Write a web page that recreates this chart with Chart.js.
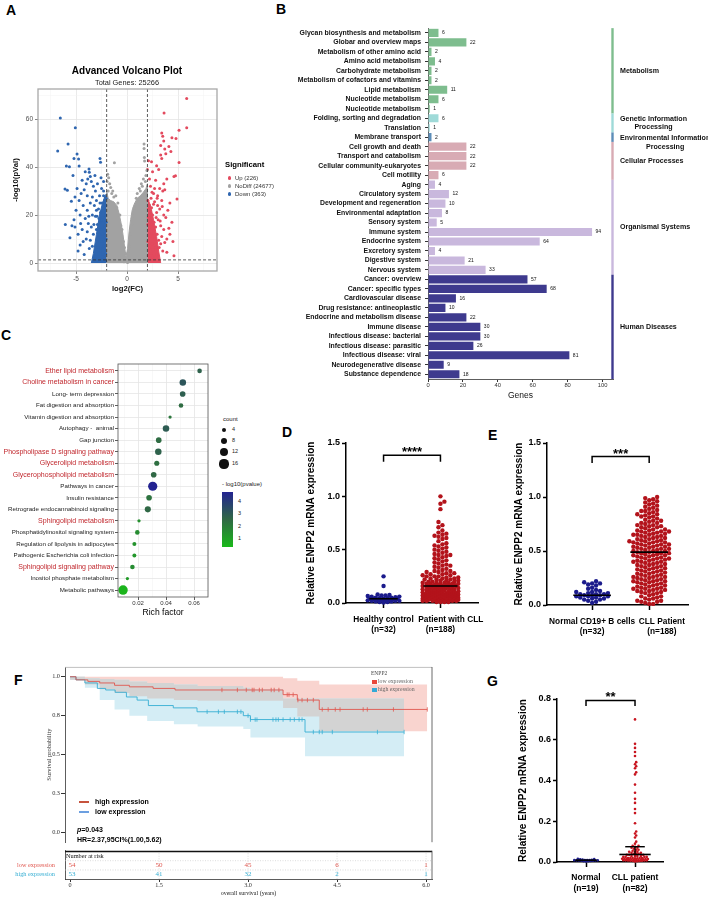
<!DOCTYPE html>
<html><head><meta charset="utf-8"><title>Figure</title>
<script src="https://cdn.jsdelivr.net/npm/chart.js@4.4.1/dist/chart.umd.min.js"></script>
<style>
html,body{margin:0;padding:0;background:#fff;}
#fig{position:relative;width:708px;height:897px;overflow:hidden;font-family:"Liberation Sans",Arial,sans-serif;color:#000;}
#fig canvas{position:absolute;}
.t{position:absolute;white-space:nowrap;line-height:1;}
</style></head><body><div id="fig"></div>
<script>
// ================= DATA =================
// ---- Panel A: volcano ----
const volcanoTitle = 'Advanced Volcano Plot';
const volcanoSubtitle = 'Total Genes: 25266';
const volcanoGroups = ['Up (226)', 'NoDiff (24677)', 'Down (363)'];
const log2fcCut = 2;
const log10pCut = 1.3;
const volcanoXTicks = [-7.5,-5,-2.5,0,2.5,5,7.5];
const volcanoYTicks = [0,10,20,30,40,50,60,70];
const upPoints = [[5.85,68.5],[3.63,62.5],[5.85,56.4],[5.1,55.3],[3.4,54.2],[3.5,52.8],[4.4,52.2],[4.8,51.9],[3.6,50.8],[3.3,49.0],[4.1,48.5],[3.7,47.5],[4.3,46.5],[3.3,45.0],[3.8,45.5],[3.4,43.5],[5.1,41.9],[2.1,42.6],[2.4,42.2],[2.9,40.5],[3.1,39.0],[2.5,38.0],[4.75,36.4],[4.6,36.0],[3.9,35.0],[2.8,34.5],[3.6,33.0],[2.3,32.0],[3.2,31.0],[3.7,30.5],[3.5,30.0],[4.9,26.7],[4.2,25.0],[3.0,28.0],[2.6,29.0],[3.4,26.0],[4.0,22.0],[3.8,19.0],[4.4,17.0],[3.6,14.0],[4.2,12.0],[3.9,10.0],[3.3,8.0],[3.5,5.0],[2.9,3.5],[3.6,20.0],[3.2,22.5],[2.7,25.5],[3.05,18.0],[3.3,15.5],[2.95,12.0],[3.1,9.5],[2.8,6.0],[2.6,2.0],[2.4,1.5],[3.0,24.0],[4.5,9.0],[3.7,8.5],[4.1,14.5],[2.7,31.0],
[2.1,3.0],[2.2,6.0],[2.05,9.0],[2.3,11.0],[2.15,14.0],[2.4,16.0],[2.1,19.0],[2.25,21.0],[2.5,20.0],[2.6,13.0],[2.45,8.0],[2.7,10.0],[2.35,4.0],[2.55,5.5],[2.8,15.0],[2.2,24.0],[2.05,26.0],[2.4,23.0],[2.65,17.0],[2.9,21.0],[2.75,7.5],[2.15,12.5],[2.3,17.5],[2.5,11.5],[2.1,22.5],[2.85,19.0],[2.6,24.5],[2.35,27.0],[2.05,16.0],[2.5,2.8],[3.4,11.0],[3.15,6.5],[2.95,27.0],[3.45,23.5],[3.9,4.5],[4.6,3.0],[3.25,17.5],[2.45,29.5],[2.2,35.0],[2.0,39.0]];
const downPoints = [[-6.54,60.4],[-5.07,56.4],[-5.78,49.6],[-6.8,46.7],[-4.9,45.4],[-5.2,43.5],[-4.75,43.3],[-5.95,40.4],[-5.65,40.1],[-4.7,40.4],[-2.65,43.5],[-2.6,42.0],[-3.73,39.2],[-3.7,37.8],[-3.6,36.0],[-3.85,35.0],[-4.4,34.5],[-3.5,34.0],[-6.08,30.8],[-5.85,30.3],[-5.46,25.7],[-6.05,16.0],[-5.4,15.5],[-5.1,15.0],[-4.9,31.0],[-4.5,29.0],[-4.2,30.5],[-3.9,28.0],[-3.3,32.0],[-3.1,30.0],[-2.9,33.0],[-2.5,31.0],[-2.3,34.0],[-4.7,26.0],[-4.3,24.0],[-5.0,22.0],[-4.6,20.0],[-5.2,18.0],[-4.8,12.0],[-4.4,14.0],[-4.1,18.5],[-3.9,22.0],[-3.6,25.0],[-3.4,27.5],[-3.2,24.0],[-3.0,26.0],[-2.7,28.0],[-4.0,10.0],[-3.7,6.0],[-3.5,15.0],[-3.3,12.0],[-3.8,16.5],[-3.1,19.5],[-2.8,22.5],[-5.6,10.5],[-4.6,7.5],[-3.2,3.0],[-2.9,9.0],[-2.6,5.0],[-2.4,1.5],[-3.0,14.0],[-2.7,17.0],[-3.4,20.0],[-4.2,3.5],[-3.9,13.0],[-2.3,30.0],[-2.2,2.0],[-2.1,0.8],[-5.3,36.5],[-4.1,38.0],
[-2.1,4.0],[-2.3,7.0],[-2.05,10.0],[-2.4,12.0],[-2.2,15.0],[-2.5,18.0],[-2.1,20.0],[-2.3,23.0],[-2.6,21.0],[-2.7,12.0],[-2.45,9.0],[-2.8,10.5],[-2.35,3.5],[-2.6,6.0],[-2.9,16.0],[-2.2,26.0],[-2.05,27.0],[-2.45,25.0],[-2.75,18.5],[-3.0,22.0],[-2.85,6.5],[-2.15,13.0],[-2.35,19.0],[-2.55,14.0],[-2.1,24.0],[-2.95,19.5],[-2.65,25.0],[-2.3,28.0],[-2.05,17.0],[-3.6,9.5],[-4.3,9.0],[-4.8,5.0],[-3.4,7.0],[-5.1,27.5],[-4.0,33.0],[-3.15,36.5],[-2.55,35.5],[-4.55,16.5],[-3.75,19.5],[-3.25,16.0]];
const noDiffPoints = [[1.67,49.6],[1.67,47.7],[-1.24,41.8],[1.7,44.0],[1.72,42.5],[-1.9,37.0],[-1.8,35.5],[-1.95,34.0],[1.95,38.5],[1.85,36.5],[1.6,35.0],[1.4,33.0],[1.2,31.0],[1.0,29.0],[0.9,27.0],[-1.6,31.5],[-1.4,30.0],[-1.1,28.0],[-0.9,25.0],[-0.7,20.0],[-0.5,14.0],[-0.35,9.0],[0.35,12.0],[0.5,16.0],[0.7,23.0],[1.5,32.0],[1.8,34.0],[-1.7,33.0],[-1.3,27.5],[0.15,5.0],[-0.15,4.0],[0.25,1.0],[-0.3,0.5],[0.05,0.2],[1.9,29.5],[-1.85,30.0],[1.1,26.5],[-1.0,23.0],[-0.6,15.5],[0.6,19.5],[-1.5,29.0],[1.3,30.0],[-0.25,6.5],[0.3,7.0]];
// outlines of the solid (over-plotted) clouds
const noDiffCore = [[-2,0],[-2,30],[-1.85,27],[-1.6,26],[-1.3,25.5],[-1.0,24],[-0.8,21],[-0.6,17],[-0.4,12],[-0.25,7],[-0.1,2.5],[0.05,6],[0.2,13],[0.35,18],[0.5,22],[0.7,24.5],[1.0,27],[1.3,28],[1.6,29.5],[1.85,31],[2,33],[2,0]];
const downCore = [[-3.5,0],[-3.3,4],[-3.0,12],[-2.7,20],[-2.4,25],[-2.15,28],[-2,29],[-2,0]];
const upCore = [[2,0],[2,27],[2.3,24],[2.6,18],[2.9,11],[3.1,5],[3.3,0]];

// ---- Panel B: KEGG classification ----
const keggPathways = ['Glycan biosynthesis and metabolism','Globar and overview maps','Metabolism of other amino acid','Amino acid metabolism','Carbohydrate metabolism','Metabolism of cofactors and vitamins','Lipid metabolism','Nucleotide metabolism','Nucleotide metabolism','Folding, sorting and degradation','Translation','Membrane transport','Cell growth and death','Transport and catabolism','Cellular community-eukaryotes','Cell motility','Aging','Circulatory system','Development and regeneration','Environmental adaptation','Sensory system','Immune system','Endocrine system','Excretory system','Digestive system','Nervous system','Cancer: overview','Cancer: specific types','Cardiovascular disease','Drug resistance: antineoplastic','Endocrine and metabolism disease','Immune disease','Infectious disease: bacterial','Infectious disease: parasitic','Infectious disease: viral','Neurodegenerative disease','Substance dependence'];
const keggGenes = [6,22,2,4,2,2,11,6,1,6,1,2,22,22,22,6,4,12,10,8,5,94,64,4,21,33,57,68,16,10,22,30,30,26,81,9,18];
const keggGroups = ['Metabolism','Genetic Information|Processing','Environmental Information|Processing','Cellular Processes','Organismal Systems','Human Diseases'];
const keggGroupSizes = [9,2,1,4,10,11];
const keggTicks = [0,20,40,60,80,100];

// ---- Panel C: enrichment dot plot ----
const enrichTerms = ['Ether lipid metabolism','Choline metabolism in cancer','Long- term depression','Fat digestion and absorption','Vitamin digestion and absorption','Autophagy -  animal','Gap junction','Phospholipase D signaling pathway','Glycerolipid metabolism','Glycerophospholipid metabolism','Pathways in cancer','Insulin resistance','Retrograde endocannabinoid signaling','Sphingolipid metabolism','Phosphatidylinositol signaling system','Regulation of lipolysis in adipocytes','Pathogenic Escherichia coli infection','Sphingolipid signaling pathway','Inositol phosphate metabolism','Metabolic pathways'];
const richFactor = [0.064,0.052,0.0519,0.0507,0.0429,0.040,0.0348,0.0345,0.0334,0.0312,0.0305,0.0279,0.027,0.0207,0.0195,0.0174,0.0174,0.016,0.0124,0.0093];
const termCount = [4,8,6,4,2,8,6,8,5,6,16,6,7,2,4,3,3,4,2,17];
const termLogP = [2.8,3.2,2.9,2.5,2.2,3.0,2.5,2.8,2.4,2.6,4.8,2.3,2.6,1.5,1.6,1.4,1.3,1.6,1.2,0.5];
const termHighlight = [1,1,0,0,0,0,0,1,1,1,0,0,0,1,0,0,0,1,0,0];
const richTicks = [0.01,0.02,0.03,0.04,0.05,0.06,0.07];
const richLabels = [0.02,0.04,0.06];
const countLegend = [4,8,12,16];
const pLegend = [4,3,2,1];

// ---- Panel D ----
const dGroups = [['Healthy control','(n=32)'],['         Patient with CLL','(n=188)']];
const dHealthy = [0.25,0.16,0.08,0.075,0.07,0.07,0.065,0.06,0.06,0.055,0.05,0.05,0.045,0.045,0.04,0.04,0.04,0.035,0.035,0.03,0.03,0.03,0.025,0.025,0.02,0.02,0.02,0.015,0.015,0.01,0.01,0.005];
const dCLL = [1.00,0.95,0.93,0.88,0.76,0.73,0.71,0.68,0.66,0.65,0.64,0.63,0.62,0.61,0.60,0.58,
0.56,0.55,0.54,0.53,0.52,0.51,0.50,
0.49,0.48,0.47,0.46,0.45,0.45,0.44,0.43,0.42,0.41,0.40,
0.39,0.38,0.37,0.36,0.35,0.35,0.34,0.33,0.32,0.31,0.30,0.30,
0.29,0.29,0.28,0.28,0.27,0.27,0.26,0.26,0.25,0.25,0.25,0.24,0.24,0.23,0.23,0.23,0.22,0.22,0.22,0.21,0.21,0.21,0.20,0.20,0.20,
0.19,0.19,0.19,0.19,0.18,0.18,0.18,0.18,0.18,0.17,0.17,0.17,0.17,0.17,0.16,0.16,0.16,0.16,0.16,0.15,0.15,0.15,0.15,0.15,0.15,0.14,0.14,0.14,0.14,0.14,0.13,0.13,0.13,0.13,0.13,0.12,0.12,0.12,0.12,0.12,0.11,0.11,0.11,0.11,0.11,0.10,0.10,0.10,0.10,0.10,
0.09,0.09,0.09,0.09,0.09,0.09,0.09,0.08,0.08,0.08,0.08,0.08,0.08,0.08,0.08,0.07,0.07,0.07,0.07,0.07,0.07,0.07,0.07,0.06,0.06,0.06,0.06,0.06,0.06,0.06,0.06,0.05,0.05,0.05,0.05,0.05,0.05,0.05,0.05,0.05,0.04,0.04,0.04,0.04,0.04,0.04,0.04,0.04,0.03,0.03,0.03,0.03,0.03,0.03,0.03,0.03,0.02,0.02,0.02,0.02,0.02,0.02,0.02,0.01,0.01,0.01,0.01];
const dCenter = [0.04,0.16];
const dTicks = [0,0.5,1.0,1.5];
const dSig = '****';

// ---- Panel E ----
const eGroups = [['Normal CD19+ B cells','(n=32)'],['           CLL Patient','           (n=188)']];
const eNormal = [0.22,0.21,0.20,0.20,0.19,0.18,0.16,0.15,0.14,0.13,0.12,0.12,0.11,0.11,0.10,0.10,0.10,0.09,0.09,0.09,0.08,0.08,0.08,0.07,0.07,0.06,0.06,0.05,0.05,0.04,0.03,0.02];
const eCLL = [1.00,0.99,0.98,0.97,0.96,0.95,0.94,0.93,0.92,0.91,
0.90,0.89,0.88,0.87,0.87,0.86,0.85,0.84,0.84,0.83,0.82,0.82,0.81,0.80,
0.79,0.78,0.78,0.77,0.76,0.76,0.75,0.74,0.74,0.73,0.73,0.72,0.72,0.71,0.70,0.70,
0.69,0.69,0.68,0.68,0.68,0.67,0.67,0.66,0.66,0.65,0.65,0.65,0.64,0.64,0.63,0.63,0.62,0.62,0.61,0.61,0.60,0.60,
0.59,0.59,0.59,0.58,0.58,0.58,0.57,0.57,0.56,0.56,0.56,0.55,0.55,0.54,0.54,0.54,0.53,0.53,0.52,0.52,0.52,0.51,0.51,0.50,0.50,0.50,
0.49,0.49,0.48,0.48,0.48,0.47,0.47,0.46,0.46,0.46,0.45,0.45,0.44,0.44,0.43,0.43,0.43,0.42,0.42,0.41,0.41,0.40,0.40,0.40,
0.39,0.39,0.38,0.38,0.37,0.37,0.36,0.36,0.35,0.35,0.34,0.34,0.33,0.33,0.32,0.32,0.31,0.31,0.30,0.30,
0.29,0.29,0.28,0.28,0.27,0.27,0.26,0.26,0.26,0.25,0.25,0.24,0.24,0.23,0.23,0.22,0.22,0.22,0.21,0.21,0.20,0.20,
0.19,0.19,0.18,0.18,0.17,0.17,0.16,0.16,0.15,0.15,0.15,0.14,0.14,0.13,0.13,0.12,0.12,0.11,0.11,0.10,
0.09,0.08,0.08,0.07,0.06,0.06,0.05,0.04,0.04,0.03,0.03,0.02,0.01,0.01];
const eCenter = [0.09,0.49];
const eTicks = [0,0.5,1.0,1.5];
const eSig = '***';

// ---- Panel F: Kaplan-Meier ----
const kmGroupLabel = 'ENPP2';
const kmGroups = ['low expression','high expression'];
const kmLowT = [0,0.1,0.3,0.5,0.75,1.0,1.4,1.77,3.59,3.83,4.2,6.02];
const kmLowS = [1.0,0.98,0.97,0.96,0.945,0.935,0.925,0.915,0.885,0.85,0.79,0.79];
const kmHighT = [0,0.1,0.25,0.46,0.6,0.76,0.95,1.13,1.32,1.74,2.14,2.92,3.04,3.96,5.63];
const kmHighS = [1.0,0.98,0.96,0.925,0.915,0.9,0.87,0.85,0.815,0.8,0.775,0.75,0.725,0.645,0.645];
const censorLow = [2.56,2.82,2.97,3.07,3.10,3.19,3.24,3.39,3.44,3.52,3.66,3.69,3.76,3.84,3.91,4.0,4.1,4.25,4.35,4.47,4.55,4.94,5.01,5.45,6.02];
const censorHigh = [2.31,2.5,2.6,2.82,2.88,3.0,3.04,3.12,3.15,3.42,3.47,3.51,3.59,3.71,3.78,3.86,3.91,4.1,4.2,4.25,4.42,5.18,5.63];
const bandT  = [0,0.25,0.5,0.75,1.0,1.3,1.75,2.15,2.92,3.04,3.59,3.83,3.96,4.2,5.63,6.02];
const lowLo  = [0.98,0.95,0.92,0.895,0.875,0.86,0.85,0.845,0.845,0.845,0.80,0.745,0.745,0.65,0.65,0.65];
const lowHi  = [1.0,1.0,1.0,1.0,1.0,1.0,1.0,1.0,1.0,1.0,0.99,0.975,0.975,0.95,0.95,0.95];
const highLo = [0.98,0.93,0.85,0.79,0.75,0.715,0.695,0.68,0.665,0.61,0.61,0.61,0.49,0.49,0.49,null];
const highHi = [1.0,0.99,0.985,0.98,0.97,0.96,0.95,0.94,0.93,0.92,0.86,0.86,0.86,0.86,0.86,null];
const kmYTicks = [0,0.25,0.5,0.75,1.0];
const riskTitle = 'Number at risk';
const riskTimes = [0,1.5,3,4.5,6];
const riskLow = [54,50,45,6,1];
const riskHigh = [53,41,32,2,1];
const kmLegend = ['high expression','low expression'];
const kmStats = ['<i>p</i>=0.043','HR=2.37,95CI%(1.00,5.62)'];

// ---- Panel G ----
const gGroups = [['Normal','(n=19)'],['CLL patient','(n=82)']];
const gNormal = [0.016,0.014,0.013,0.012,0.011,0.010,0.010,0.009,0.009,0.008,0.008,0.007,0.007,0.006,0.006,0.005,0.004,0.004,0.003];
const gCLL = [0.70,0.58,0.56,0.54,0.52,0.49,0.48,0.47,0.46,0.44,0.43,0.38,0.34,0.31,0.29,0.26,0.24,0.19,0.15,0.14,0.13,0.12,0.10,
0.09,0.08,0.08,0.075,0.07,0.07,0.065,0.06,0.06,0.055,0.05,0.05,0.05,0.045,0.045,0.04,0.04,0.04,0.035,0.035,0.035,0.03,0.03,0.03,0.03,0.025,0.025,0.025,0.025,0.02,0.02,0.02,0.02,0.02,0.018,0.018,0.016,0.016,0.015,0.015,0.014,0.013,0.012,0.012,0.011,0.010,0.010,0.009,0.009,0.008,0.008,0.007,0.007,0.006,0.006,0.005,0.005,0.004,0.003];
const gCenter = [0.009,0.037];
const gUpper = [0.012,0.075];
const gTicks = [0,0.2,0.4,0.6,0.8];
const gSig = '**';

// ================= HELPERS =================
const fig = document.getElementById('fig');
const SANS = "'Liberation Sans', Arial, sans-serif";
const SERIF = "'Liberation Serif', 'Times New Roman', serif";
Chart.defaults.font.family = SANS;
Chart.defaults.color = '#000';
function mk(left, top, w, h){const c=document.createElement('canvas');c.width=w;c.height=h;c.style.left=left+'px';c.style.top=top+'px';c.style.width=w+'px';c.style.height=h+'px';fig.appendChild(c);return c;}
function T(txt,x,y,fs,o){o=o||{};const d=document.createElement('div');d.className='t';d.innerHTML=txt;d.style.fontSize=fs+'px';d.style.fontWeight=o.b?'bold':'normal';if(o.f)d.style.fontFamily=o.f;if(o.c)d.style.color=o.c;d.style.top=(y-0.52*fs)+'px';
 if(o.a==='center'){d.style.left=(x-200)+'px';d.style.width='400px';d.style.textAlign='center';}else if(o.a==='right'){d.style.left=(x-400)+'px';d.style.width='400px';d.style.textAlign='right';}else d.style.left=x+'px';fig.appendChild(d);return d;}
function box(x,y,w,h,bg,round){const d=document.createElement('div');d.style.position='absolute';d.style.left=x+'px';d.style.top=y+'px';d.style.width=w+'px';d.style.height=h+'px';d.style.background=bg;if(round)d.style.borderRadius='50%';fig.appendChild(d);return d;}
const xy = arr => arr.map(p=>({x:p[0],y:p[1]}));
const base = {responsive:false,animation:false,devicePixelRatio:1,events:[]};
const noPlug = {legend:{display:false},tooltip:{enabled:false}};
const framePlugin = {id:'frame',afterDraw(chart,args,o){const a=chart.chartArea,ctx=chart.ctx;ctx.save();ctx.strokeStyle=o.color||'#888';ctx.lineWidth=o.width||1;ctx.strokeRect(a.left,a.top,a.right-a.left,a.bottom-a.top);ctx.restore();}};
function lerp(a,b,t){return a+(b-a)*t;}
function pColor(v){const t=Math.max(0,Math.min(1,(v-0.35)/(4.8-0.35)));const s=[[25,185,25],[48,105,68],[35,35,145]];let c;if(t<0.5){const u=t/0.5;c=s[0].map((q,i)=>lerp(q,s[1][i],u));}else{const u=(t-0.5)/0.5;c=s[1].map((q,i)=>lerp(q,s[2][i],u));}return 'rgb('+c.map(Math.round).join(',')+')';}
function countRadius(n){return 1.15*Math.sqrt(n);}
function swarm(vals,pxY,pxX,r,maxW){
 const order=vals.map((v,i)=>i).sort((a,b)=>vals[a]-vals[b]);const placed=[];const off=new Array(vals.length).fill(0);
 const d=2*r*0.9,step=r*0.9;const K=Math.max(0,Math.floor(maxW/step));
 order.forEach(i=>{const py=vals[i]*pxY;let best=0,bestD=-1;
  for(let k=0;k<=2*K;k++){const px=(k===0?0:(k%2?1:-1)*Math.ceil(k/2)*step);let m=Infinity;
   for(const p of placed){const dy=p[1]-py;if(Math.abs(dy)<d){const dd=Math.hypot(p[0]-px,dy);if(dd<m)m=dd;}}
   if(m>=d){best=px;bestD=Infinity;break;} if(m>bestD){bestD=m;best=px;}}
  placed.push([best,py]);off[i]=best/pxX;});
 return off;}
function stepAt(Ts,Ss,t){let v=Ss[0];for(let i=0;i<Ts.length;i++){if(Ts[i]<=t+1e-9)v=Ss[i];}return v;}

// ================= PANEL LETTERS =================
[['A',6,10.5],['B',276,9],['C',1,335],['D',282,432],['E',488,435],['F',14,680],['G',487,681]].forEach(l=>T(l[0],l[1],l[2],14,{b:true}));

// ================= PANEL A =================
const upC='#e34a5e', downC='#2f66b0', ndC='#a2a2a2';
new Chart(mk(0,60,290,240),{type:'scatter',data:{datasets:[
 {type:'line',data:xy(noDiffCore),fill:'origin',backgroundColor:ndC,borderColor:ndC,borderWidth:1,pointRadius:0,order:9},
 {type:'line',data:xy(downCore),fill:'origin',backgroundColor:downC,borderColor:downC,borderWidth:1,pointRadius:0,order:9},
 {type:'line',data:xy(upCore),fill:'origin',backgroundColor:upC,borderColor:upC,borderWidth:1,pointRadius:0,order:9},
 {data:xy(noDiffPoints),backgroundColor:ndC,borderWidth:0,pointRadius:1.5,order:5},
 {data:xy(downPoints),backgroundColor:downC,borderWidth:0,pointRadius:1.5,order:5},
 {data:xy(upPoints),backgroundColor:upC,borderWidth:0,pointRadius:1.5,order:5},
 {type:'line',data:[{x:-log2fcCut,y:-10},{x:-log2fcCut,y:100}],borderColor:'#333',borderWidth:0.8,borderDash:[3,2],pointRadius:0,order:0},
 {type:'line',data:[{x:log2fcCut,y:-10},{x:log2fcCut,y:100}],borderColor:'#333',borderWidth:0.8,borderDash:[3,2],pointRadius:0,order:0},
 {type:'line',data:[{x:-20,y:log10pCut},{x:20,y:log10pCut}],borderColor:'#333',borderWidth:0.8,borderDash:[3,2],pointRadius:0,order:0}
]},options:Object.assign({},base,{layout:{padding:{top:29,right:73}},plugins:Object.assign({frame:{color:'#a8a8a8',width:1.3}},noPlug),
 scales:{
  x:{type:'linear',min:-8.73,max:8.82,afterBuildTicks:s=>{s.ticks=volcanoXTicks.map(v=>({value:v}));},afterFit:s=>{s.height=29;},
   ticks:{callback:v=>(v%5===0?String(v):''),font:{size:6.5},color:'#4d4d4d',padding:1,maxRotation:0,autoSkip:false},
   grid:{color:c=>(c.tick&&c.tick.value%5===0?'#e4e4e4':'#f2f2f2'),lineWidth:c=>(c.tick&&c.tick.value%5===0?0.8:0.5),tickColor:c=>(c.tick&&c.tick.value%5===0?'#666':'rgba(0,0,0,0)'),tickLength:3},
   border:{display:false},title:{display:true,text:'log2(FC)',font:{size:7.7,weight:'bold'},color:'#111',padding:{top:0,bottom:6}}},
  y:{type:'linear',min:-3.33,max:72.5,afterBuildTicks:s=>{s.ticks=volcanoYTicks.map(v=>({value:v}));},afterFit:s=>{s.width=38;},
   ticks:{callback:v=>(v%20===0?String(v):''),font:{size:6.5},color:'#4d4d4d',padding:2,autoSkip:false},
   grid:{color:c=>(c.tick&&c.tick.value%20===0?'#e4e4e4':'#f2f2f2'),lineWidth:c=>(c.tick&&c.tick.value%20===0?0.8:0.5),tickColor:c=>(c.tick&&c.tick.value%20===0?'#666':'rgba(0,0,0,0)'),tickLength:3},
   border:{display:false},title:{display:true,text:'-log10(pVal)',font:{size:7.7,weight:'bold'},color:'#111',padding:{top:11}}}
 }}),plugins:[framePlugin]});
T(volcanoTitle,127,71,10,{b:true,a:'center'});
T(volcanoSubtitle,127,83,7.4,{a:'center',c:'#222'});
T('Significant',225,165,7.7,{b:true});
[upC,ndC,downC].forEach((c,i)=>{const y=178+i*8;box(227.5,y-1.6,3.2,3.2,c,true);T(volcanoGroups[i],235,y,6,{c:'#333'});});

// ================= PANEL B =================
const keggGroupColors=['#7ebd8e','#9fdad8','#5c8db8','#d8abb4','#c9b8dd','#3e3a8e'];
const keggBarColors=[];keggGroupSizes.forEach((n,gi)=>{for(let k=0;k<n;k++)keggBarColors.push(keggGroupColors[gi]);});
const keggValueLabels={id:'keggValueLabels',afterDatasetsDraw(chart){const ctx=chart.ctx;const meta=chart.getDatasetMeta(0);ctx.save();ctx.font="5px "+SANS;ctx.fillStyle='#111';ctx.textBaseline='middle';ctx.textAlign='left';meta.data.forEach((bar,i)=>{ctx.fillText(String(keggGenes[i]),bar.x+3.5,bar.y);});ctx.restore();}};
const keggStrips={id:'keggStrips',afterDraw(chart){const ctx=chart.ctx,a=chart.chartArea,y=chart.scales.y;const half=(y.getPixelForValue(1)-y.getPixelForValue(0))/2;const shift=[0,0,5,0,0,0];let start=0;ctx.save();
 keggGroups.forEach((g,gi)=>{const end=start+keggGroupSizes[gi]-1;const y0=y.getPixelForValue(start)-half,y1=y.getPixelForValue(end)+half;ctx.strokeStyle=keggGroupColors[gi];ctx.lineWidth=2.4;ctx.beginPath();ctx.moveTo(a.right-0.5,y0);ctx.lineTo(a.right-0.5,y1);ctx.stroke();
  const lines=g.split('|');const yc=(y0+y1)/2+shift[gi];ctx.fillStyle='#111';ctx.font="bold 7.1px "+SANS;ctx.textBaseline='middle';const x0=a.right+7;const w0=ctx.measureText(lines[0]).width;
  lines.forEach((ln,li)=>{const yy=yc+(li-(lines.length-1)/2)*8.8;if(li===0){ctx.textAlign='left';ctx.fillText(ln,x0,yy);}else{ctx.textAlign='center';ctx.fillText(ln,x0+w0/2,yy);}});start=end+1;});ctx.restore();}};
new Chart(mk(280,20,428,385),{type:'bar',data:{labels:keggPathways,datasets:[{data:keggGenes,backgroundColor:keggBarColors,borderWidth:0,barPercentage:1,categoryPercentage:0.86}]},
 options:Object.assign({},base,{indexAxis:'y',layout:{padding:{top:7.3,right:95}},plugins:noPlug,
  scales:{
   x:{min:0,max:106,afterBuildTicks:s=>{s.ticks=keggTicks.map(v=>({value:v}));},afterFit:s=>{s.height=26;},ticks:{font:{size:5.8},color:'#333',padding:0,maxRotation:0},
    grid:{drawOnChartArea:false,tickLength:3,color:'#333'},border:{color:'#333',width:0.8},title:{display:true,text:'Genes',font:{size:8.5},color:'#111',padding:{top:0,bottom:4.3}}},
   y:{afterFit:s=>{s.width=148;},ticks:{font:{size:6.9,weight:'bold'},color:'#111',padding:4,autoSkip:false},
    grid:{offset:false,drawOnChartArea:false,tickLength:3,color:'#333'},border:{color:'#333',width:0.8}}
  }}),plugins:[keggValueLabels,keggStrips]});

// ================= PANEL C =================
const isRichMajor=v=>richLabels.some(a=>Math.abs(a-v)<1e-9);
new Chart(mk(0,355,215,265),{type:'bubble',data:{datasets:[{data:enrichTerms.map((t,i)=>({x:richFactor[i],y:i,r:countRadius(termCount[i])})),backgroundColor:termLogP.map(pColor),borderWidth:0,clip:false}]},
 options:Object.assign({},base,{layout:{padding:{top:9,right:7}},plugins:Object.assign({frame:{color:'#555',width:0.8}},noPlug),
  scales:{
   x:{type:'linear',min:0.0057,max:0.07,afterBuildTicks:s=>{s.ticks=richTicks.map(v=>({value:v}));},afterFit:s=>{s.height=23;},
    ticks:{callback:v=>(isRichMajor(v)?v.toFixed(2):''),font:{size:6},color:'#333',padding:0,maxRotation:0,autoSkip:false},
    grid:{color:c=>(c.tick&&isRichMajor(c.tick.value)?'#e4e4e4':'#f0f0f0'),lineWidth:c=>(c.tick&&isRichMajor(c.tick.value)?0.8:0.5),tickColor:c=>(c.tick&&isRichMajor(c.tick.value)?'#333':'rgba(0,0,0,0)'),tickLength:3},
    border:{display:false},title:{display:true,text:'Rich factor',font:{size:8.6},color:'#000',padding:{top:0,bottom:2}}},
   y:{type:'linear',reverse:true,min:-0.6,max:19.6,afterBuildTicks:s=>{s.ticks=enrichTerms.map((t,i)=>({value:i}));},afterFit:s=>{s.width=118;},
    ticks:{callback:v=>enrichTerms[v]||'',autoSkip:false,color:c=>(termHighlight[c.index]?'#c1272d':'#222'),font:c=>({size:termHighlight[c.index]?7:6.2}),padding:1},
    grid:{color:'#e6e6e6',lineWidth:0.8,tickColor:'#333',tickLength:3},border:{display:false}}
  }}),plugins:[framePlugin]});
T('count',223,419,6,{c:'#222'});
countLegend.forEach((n,i)=>{const y=[430,441,452,464][i];const r=countRadius(n);box(224-r,y-r,2*r,2*r,'#111',true);T(String(n),232,y,5.5,{c:'#222'});});
T('- log10(pvalue)',222,484,6,{c:'#222'});
(function(){const stops=[];for(let k=0;k<=10;k++){const v=4.8-(4.45*k/10);stops.push(pColor(v)+' '+(k*10)+'%');}box(222,492,11,55,'linear-gradient(to bottom,'+stops.join(',')+')');
 pLegend.forEach(v=>{T(String(v),238,547-(v-0.35)*(55/4.45),5.5,{c:'#222'});});})();

// ================= PANELS D, E, G =================
const bracketPlugin={id:'bracket',afterDraw(chart,args,o){const ctx=chart.ctx,x=chart.scales.x,y=chart.scales.y;const yy=y.getPixelForValue(o.y);const x1=x.getPixelForValue(1),x2=x.getPixelForValue(2);ctx.save();ctx.strokeStyle='#000';ctx.lineWidth=1.5;ctx.beginPath();ctx.moveTo(x1,yy+o.leg);ctx.lineTo(x1,yy);ctx.lineTo(x2,yy);ctx.lineTo(x2,yy+o.leg);ctx.stroke();ctx.fillStyle='#000';ctx.font="bold "+o.fs+"px "+SANS;ctx.textAlign='center';ctx.textBaseline='alphabetic';ctx.fillText(o.text,(x1+x2)/2,yy+o.dy);ctx.restore();}};
function dotPanel(canvas,cfg){
 const ds=[];
 cfg.groups.forEach((vals,gi)=>{
  const off=swarm(vals,cfg.pxY,cfg.pxX,cfg.r,cfg.maxW[gi]);
  ds.push({type:'scatter',data:vals.map((v,i)=>({x:gi+1+off[i],y:v})),backgroundColor:cfg.colors[gi],borderWidth:0,pointRadius:cfg.r,clip:false,order:2});
  ds.push({type:'line',data:[{x:gi+1-cfg.lineW[gi],y:cfg.centers[gi]},{x:gi+1+cfg.lineW[gi],y:cfg.centers[gi]}],borderColor:'#000',borderWidth:1.6,pointRadius:0,clip:false,order:1});
  if(cfg.upper&&cfg.upper[gi]>cfg.centers[gi]+0.02){
   ds.push({type:'line',data:[{x:gi+1,y:cfg.centers[gi]},{x:gi+1,y:cfg.upper[gi]}],borderColor:'#000',borderWidth:1.4,pointRadius:0,clip:false,order:1});
   ds.push({type:'line',data:[{x:gi+1-cfg.capW,y:cfg.upper[gi]},{x:gi+1+cfg.capW,y:cfg.upper[gi]}],borderColor:'#000',borderWidth:1.4,pointRadius:0,clip:false,order:1});
  }
 });
 new Chart(canvas,{type:'scatter',data:{datasets:ds},options:Object.assign({},base,{layout:{padding:cfg.pad},plugins:Object.assign({bracket:cfg.bracket},noPlug),
  scales:{
   x:{type:'linear',min:cfg.xMin,max:cfg.xMax,afterBuildTicks:s=>{s.ticks=[{value:1},{value:2}];},afterFit:s=>{s.height=cfg.xH;},
    ticks:{callback:v=>cfg.labels[v-1],font:{size:cfg.xFs,weight:'bold'},color:'#000',padding:cfg.xPad,maxRotation:0,autoSkip:false},
    grid:{drawOnChartArea:false,tickLength:5,tickWidth:1.5,tickColor:'#000'},border:{color:'#000',width:1.5}},
   y:{type:'linear',min:0,max:cfg.yMax,afterBuildTicks:s=>{s.ticks=cfg.yTicks.map(v=>({value:v}));},afterFit:s=>{s.width=cfg.yW;},
    ticks:{callback:v=>v.toFixed(1),font:{size:9,weight:'bold'},color:'#000',padding:2},
    grid:{drawOnChartArea:false,tickLength:4,tickWidth:1.5,tickColor:'#000'},border:{color:'#000',width:1.5},
    title:{display:true,text:'Relative ENPP2 mRNA expression',font:{size:10,weight:'bold'},color:'#000',padding:{top:cfg.titlePad}}}
  }}),plugins:[bracketPlugin]});
}
dotPanel(mk(303,425,205,215),{groups:[dHealthy,dCLL],labels:dGroups,colors:['#1b1b8c','#b3131b'],centers:dCenter,lineW:[0.25,0.3],xFs:8.3,
 pxY:106.7,pxX:57,r:2.2,maxW:[16,19],xMin:0.34,xMax:2.66,yMax:1.5,yTicks:dTicks,pad:{top:18,right:30},xH:37,yW:43,xPad:7,titlePad:2.7,
 bracket:{y:1.385,leg:6.5,text:dSig,fs:13,dy:1}});
dotPanel(mk(511,425,197,217),{groups:[eNormal,eCLL],labels:eGroups,colors:['#1b1b8c','#b3131b'],centers:eCenter,lineW:[0.33,0.33],xFs:8.3,
 pxY:108,pxX:57,r:2.2,maxW:[17,20],xMin:0.21,xMax:2.68,yMax:1.5,yTicks:eTicks,pad:{top:18,right:20},xH:37,yW:36,xPad:7,titlePad:2.7,
 bracket:{y:1.375,leg:6.5,text:eSig,fs:13,dy:1}});
dotPanel(mk(514,676,194,221),{groups:[gNormal,gCLL],labels:gGroups,colors:['#1b1b8c','#c8141f'],centers:gCenter,upper:gUpper,capW:0.2,lineW:[0.22,0.32],xFs:8.5,
 pxY:203.75,pxX:49,r:1.3,maxW:[12,14],xMin:0.408,xMax:2.571,yMax:0.8,yTicks:gTicks,pad:{top:23,right:45},xH:35,yW:43,xPad:6,titlePad:3.7,
 bracket:{y:0.793,leg:5.5,text:gSig,fs:13,dy:1}});

// ================= PANEL F =================
const kmColors=['#e0574f','#36aed3'];
const bandColors=['#f9d4cf','#d4edf5','#d3d3d3'];
const grayLo=bandT.map((t,i)=>highLo[i]==null?null:Math.max(lowLo[i],highLo[i]));
const grayHi=bandT.map((t,i)=>highHi[i]==null?null:Math.max(Math.min(lowHi[i],highHi[i]),grayLo[i]));
const TR='rgba(0,0,0,0)';
const bandPair=(hi,lo,color,ord)=>[
 {data:bandT.map((t,i)=>({x:t,y:hi[i]})),stepped:true,borderColor:TR,borderWidth:0.01,pointRadius:0,fill:false,order:ord},
 {data:bandT.map((t,i)=>({x:t,y:lo[i]})),stepped:true,borderColor:TR,borderWidth:0.01,pointRadius:0,fill:'-1',backgroundColor:color,order:ord}];
const kmFrame={id:'kmFrame',afterDraw(chart){const ctx=chart.ctx,a=chart.chartArea;ctx.save();ctx.strokeStyle='#b0b0b0';ctx.lineWidth=0.8;ctx.beginPath();ctx.moveTo(a.left,a.top+0.4);ctx.lineTo(a.right,a.top+0.4);ctx.stroke();ctx.strokeStyle='#444';ctx.beginPath();ctx.moveTo(a.right,a.top);ctx.lineTo(a.right,a.bottom);ctx.stroke();ctx.restore();}};
new Chart(mk(0,660,445,187),{type:'line',data:{datasets:[
 {data:kmLowT.map((t,i)=>({x:t,y:kmLowS[i]})),stepped:true,borderColor:kmColors[0],borderWidth:0.9,pointRadius:0,fill:false,order:0},
 {data:kmHighT.map((t,i)=>({x:t,y:kmHighS[i]})),stepped:true,borderColor:kmColors[1],borderWidth:0.9,pointRadius:0,fill:false,order:0},
 {data:censorLow.map(t=>({x:t,y:stepAt(kmLowT,kmLowS,t)})),showLine:false,pointStyle:'line',rotation:90,pointRadius:2.2,borderColor:kmColors[0],borderWidth:0.8,order:0},
 {data:censorHigh.map(t=>({x:t,y:stepAt(kmHighT,kmHighS,t)})),showLine:false,pointStyle:'line',rotation:90,pointRadius:2.2,borderColor:kmColors[1],borderWidth:0.8,order:0},
 ...bandPair(grayHi,grayLo,bandColors[2],3),
 ...bandPair(highHi,highLo,bandColors[1],4),
 ...bandPair(lowHi,lowLo,bandColors[0],5)
]},options:Object.assign({},base,{layout:{padding:{top:7,right:13}},plugins:noPlug,
 scales:{
  x:{type:'linear',min:-0.085,max:6.1,display:false},
  y:{type:'linear',min:-0.0625,max:1.0625,afterBuildTicks:s=>{s.ticks=kmYTicks.map(v=>({value:v}));},afterFit:s=>{s.width=65;},
   ticks:{callback:v=>v.toFixed(1),font:{family:SERIF,size:6.3},color:'#333',padding:1},
   grid:{drawOnChartArea:false,tickLength:4,color:'#333'},border:{color:'#333',width:0.8},
   title:{display:true,text:'Survival probability',font:{family:SERIF,size:6.5},color:'#333',padding:{top:45}}}
 }}),plugins:[kmFrame]});
const riskPlugin={id:'riskTable',afterDraw(chart){const ctx=chart.ctx,a=chart.chartArea,x=chart.scales.x,y=chart.scales.y;ctx.save();
 ctx.strokeStyle='#c4c4c4';ctx.lineWidth=0.6;ctx.setLineDash([1,1.5]);
 [0.5,1.5].forEach(v=>{const yy=y.getPixelForValue(v);ctx.beginPath();ctx.moveTo(a.left,yy);ctx.lineTo(a.right,yy);ctx.stroke();});
 riskTimes.forEach(t=>{if(t===0)return;const xx=x.getPixelForValue(t);ctx.beginPath();ctx.moveTo(xx,a.top);ctx.lineTo(xx,a.bottom);ctx.stroke();});
 ctx.setLineDash([]);ctx.strokeStyle='#111';ctx.lineWidth=1.4;ctx.beginPath();ctx.moveTo(a.left,a.top+0.7);ctx.lineTo(a.right,a.top+0.7);ctx.stroke();
 ctx.lineWidth=0.8;ctx.strokeStyle='#444';ctx.beginPath();ctx.moveTo(a.right,a.top);ctx.lineTo(a.right,a.bottom);ctx.stroke();
 ctx.font="6.3px "+SERIF;ctx.textBaseline='middle';ctx.textAlign='left';ctx.fillStyle='#111';ctx.fillText(riskTitle,a.left+1,y.getPixelForValue(0));
 ctx.font="7px "+SERIF;ctx.textAlign='center';
 [riskLow,riskHigh].forEach((row,ri)=>{ctx.fillStyle=kmColors[ri];row.forEach((n,ti)=>{ctx.fillText(String(n),x.getPixelForValue(riskTimes[ti])+(ti===0?2:0),y.getPixelForValue(ri+1));});});
 ctx.restore();}};
new Chart(mk(0,845,445,52),{type:'scatter',data:{datasets:[]},options:Object.assign({},base,{layout:{padding:{top:2,right:13}},plugins:noPlug,
 scales:{
  x:{type:'linear',min:-0.085,max:6.1,afterBuildTicks:s=>{s.ticks=riskTimes.map(v=>({value:v}));},afterFit:s=>{s.height=18;},
   ticks:{callback:v=>(v===0?'0':v.toFixed(1)),font:{family:SERIF,size:6.2},color:'#333',padding:0,maxRotation:0,autoSkip:false},
   grid:{drawOnChartArea:false,tickLength:3,color:'#333'},border:{color:'#333',width:0.8},
   title:{display:true,text:'overall survival (years)',font:{family:SERIF,size:6},color:'#222',padding:{top:0,bottom:0}}},
  y:{type:'linear',reverse:true,min:-0.571,max:2.476,afterBuildTicks:s=>{s.ticks=[{value:1},{value:2}];},afterFit:s=>{s.width=65;},
   ticks:{callback:v=>kmGroups[v-1]||'',font:{family:SERIF,size:6.3},color:c=>kmColors[c.index]||'#333',padding:2},
   grid:{display:false},border:{color:'#333',width:0.8}}
 }}),plugins:[riskPlugin]});
// KM legends
box(79,801.3,10,1.4,'#c6533d');T(kmLegend[0],95,802,7,{b:true});
box(79,811.3,10,1.4,'#6c9fe0');T(kmLegend[1],95,811.5,7,{b:true});
T(kmStats[0],77,830,7,{b:true});T(kmStats[1],77,839.5,7,{b:true});
T(kmGroupLabel,371,673.5,5.5,{f:SERIF,c:'#444'});
box(372,679.5,4.5,4.5,'#e8473a');T(kmGroups[0],378,682,5.8,{f:SERIF,c:'#666'});
box(372,687.5,4.5,4.5,'#33a9d6');T(kmGroups[1],378,690,5.8,{f:SERIF,c:'#666'});
</script></body></html>
